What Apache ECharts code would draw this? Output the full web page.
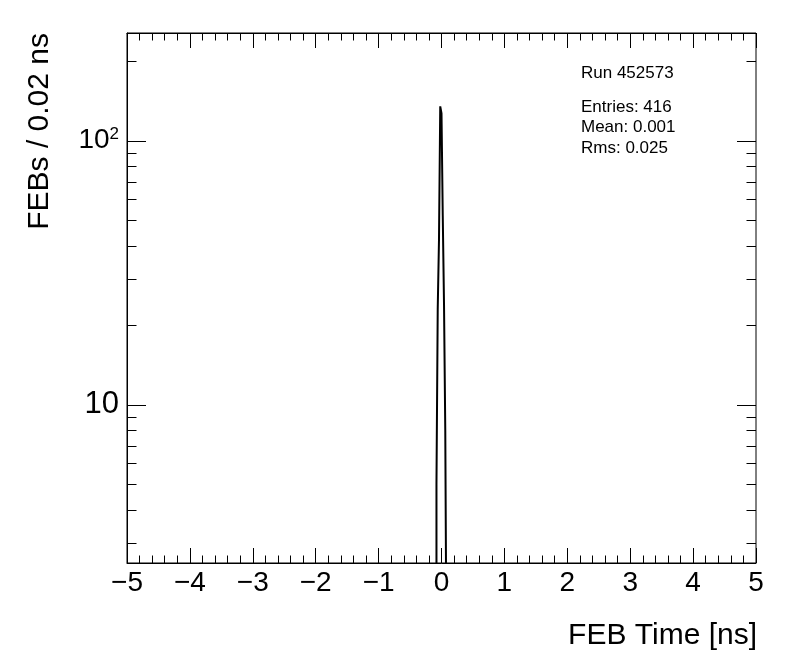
<!DOCTYPE html>
<html><head><meta charset="utf-8">
<script src="https://cdn.jsdelivr.net/npm/echarts@6/dist/echarts.min.js"></script>
<style>html,body{margin:0;padding:0;background:#fff}#c{width:796px;height:672px}</style>
</head><body><div id="c"></div>
<script>
// ---- data ----
const binLowEdges = [-0.08, -0.06, -0.04, -0.02, 0, 0.02, 0.04, 0.06];
const binCounts = [5, 23, 42, 135, 127, 52, 24, 8];
const binWidth = 0.02;
const xMin = -5, xMax = 5;
const yMin = 2.514, yMax = 255.9;
const yMajorTicks = [10, 100];
const yMinorTicks = [3, 4, 5, 6, 7, 8, 9, 20, 30, 40, 50, 60, 70, 80, 90, 200];
const runLabel = 'Run 452573';
const statsLines = ['Entries: 416', 'Mean: 0.001', 'Rms: 0.025'];
const xTitle = 'FEB Time [ns]';
const yTitle = 'FEBs / 0.02 ns';

// ---- build histogram outline ----
const floorVal = 1; // below axis minimum, clipped
const histPts = [[binLowEdges[0], floorVal]];
binLowEdges.forEach((lo, i) => histPts.push([lo, binCounts[i]]));
histPts.push([binLowEdges[binLowEdges.length - 1] + binWidth, floorVal]);

const tickData = yMajorTicks.map(v => [xMin, v, 1]).concat(yMinorTicks.map(v => [xMin, v, 0]));

const FONT = '"Liberation Sans", Arial, Helvetica, sans-serif';
const chart = echarts.init(document.getElementById('c'), null, {renderer: 'canvas'});
chart.setOption({
  animation: false,
  backgroundColor: '#fff',
  grid: {left: 127, right: 40, top: 33, bottom: 109, show: true, borderColor: '#000', borderWidth: 1},
  xAxis: [{
    type: 'value', min: xMin, max: xMax, interval: 1, position: 'bottom',
    axisLine: {show: true, onZero: false, lineStyle: {color: '#000', width: 1}},
    axisTick: {show: true, inside: true, length: 15, lineStyle: {color: '#000'}},
    minorTick: {show: true, splitNumber: 5, length: 7.5, lineStyle: {color: '#000'}},
    splitLine: {show: false},
    axisLabel: {color: '#000', fontFamily: FONT, fontSize: 28, margin: 6,
      formatter: v => v < 0 ? '\u2212' + (-v) : String(v)}
  }, {
    type: 'value', min: xMin, max: xMax, interval: 1, position: 'top',
    axisLine: {show: true, onZero: false, lineStyle: {color: '#000', width: 1}},
    axisTick: {show: true, inside: true, length: 15, lineStyle: {color: '#000'}},
    minorTick: {show: true, splitNumber: 5, length: 7.5, lineStyle: {color: '#000'}},
    splitLine: {show: false}, axisLabel: {show: false}
  }],
  yAxis: [{
    type: 'log', min: yMin, max: yMax, logBase: 10, position: 'left',
    axisLine: {show: true, onZero: false, lineStyle: {color: '#000', width: 1}},
    axisTick: {show: false}, splitLine: {show: false},
    axisLabel: {color: '#000', fontFamily: FONT, fontSize: 28, margin: 8,
      showMinLabel: false, showMaxLabel: false,
      formatter: v => {
        const l = Math.log10(v);
        if (Math.abs(l - 1) < 1e-6) return '{c|10}';
        if (Math.abs(l - 2) < 1e-6) return '{b|10}{s|2}';
        return '';
      },
      rich: {
        c: {fontFamily: FONT, fontSize: 31, color: '#000', lineHeight: 32},
        b: {fontFamily: FONT, fontSize: 28, color: '#000', lineHeight: 30},
        s: {fontFamily: FONT, fontSize: 17, color: '#000', verticalAlign: 'top', lineHeight: 30, padding: [0, 0, 14, 0]}
      }
    }
  }],
  series: [{
    type: 'line', step: 'end', data: histPts, symbol: 'none', clip: true,
    lineStyle: {color: '#000', width: 2, join: 'miter'}, silent: true
  }, {
    type: 'custom', data: tickData, silent: true,
    renderItem: (params, api) => {
      const v = api.value(1);
      const major = api.value(2) === 1;
      const lenL = major ? 19 : 9.5;
      const pL = api.coord([xMin, v]);
      const pR = api.coord([xMax, v]);
      const y = Math.round(pL[1]) + 0.5;
      return {type: 'group', children: [
        {type: 'line', shape: {x1: pL[0], y1: y, x2: pL[0] + lenL, y2: y}, style: {stroke: '#000', lineWidth: 1}},
        {type: 'line', shape: {x1: pR[0], y1: y, x2: pR[0] - lenL, y2: y}, style: {stroke: '#000', lineWidth: 1}}
      ]};
    }
  }],
  graphic: [
    {type: 'text', left: 581, top: 65, style: {text: runLabel, font: '17px ' + FONT, fill: '#000'}},
    {type: 'text', left: 581, top: 97, style: {text: statsLines.join('\n'), font: '17px ' + FONT, fill: '#000', lineHeight: 20.5}},
    {type: 'text', x: 757, y: 636, style: {text: xTitle, font: '30px ' + FONT, fill: '#000', align: 'right', verticalAlign: 'middle'}},
    {type: 'text', x: 40, y: 33, rotation: Math.PI / 2, style: {text: yTitle, font: '30px ' + FONT, fill: '#000', align: 'right', verticalAlign: 'middle'}}
  ]
});
</script></body></html>
